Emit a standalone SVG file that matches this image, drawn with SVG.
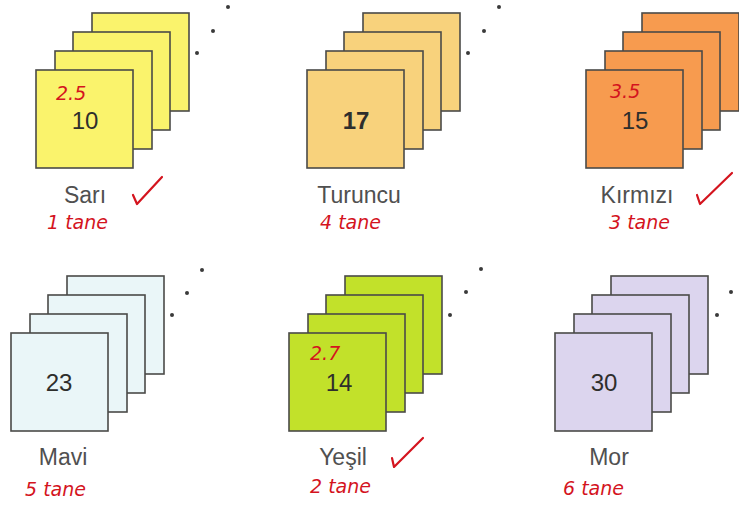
<svg xmlns="http://www.w3.org/2000/svg" width="739" height="508" viewBox="0 0 739 508">
<style>
.card{stroke:#4a4a48;stroke-width:1.6}
.num{font-family:"Liberation Sans",Arial,sans-serif;font-size:24px;fill:#2e2e2c;text-anchor:middle}
.lbl{font-family:"Liberation Sans",Arial,sans-serif;font-size:23px;fill:#505050;text-anchor:middle}
.hw{font-family:"DejaVu Sans",sans-serif;font-style:italic;font-size:19px;fill:#d4141e}
.chk{fill:none;stroke:#d4141e;stroke-width:2.2;stroke-linecap:round;stroke-linejoin:round}
.dot{fill:#3a3a3a}
.y{fill:#faf36c}.o{fill:#f8d27c}.r{fill:#f79b4f}.b{fill:#eaf6f8}.g{fill:#c2e12a}.p{fill:#dcd5ee}
</style>
<defs>
<g id="stack">
<rect x="56" y="-57" width="97" height="98"/>
<rect x="37" y="-38" width="97" height="98"/>
<rect x="19" y="-19" width="97" height="98"/>
<rect x="0" y="0" width="97" height="98"/>
</g>
</defs>
<rect width="739" height="508" fill="#ffffff"/>
<g id="sari">
<g class="card y"><use href="#stack" x="36" y="70"/></g>
<circle class="dot" cx="197" cy="53" r="2"/><circle class="dot" cx="213" cy="31" r="2"/><circle class="dot" cx="228" cy="7" r="2"/>
<text class="hw" x="56" y="100" font-size="17">2.5</text>
<text class="num" x="85" y="129">10</text>
<text class="lbl" x="85" y="203">Sarı</text>
<text class="hw" x="47" y="229">1 tane</text>
<path class="chk" d="M133,195 L137,204 L162,177"/>
</g>
<g id="turuncu">
<g class="card o"><use href="#stack" x="307" y="70"/></g>
<circle class="dot" cx="468" cy="53" r="2"/><circle class="dot" cx="484" cy="31" r="2"/><circle class="dot" cx="499" cy="7" r="2"/>
<text class="num" x="356" y="129" font-weight="bold">17</text>
<text class="lbl" x="359" y="203">Turuncu</text>
<text class="hw" x="320" y="229">4 tane</text>
</g>
<g id="kirmizi">
<g class="card r"><use href="#stack" x="586" y="70"/></g>
<text class="hw" x="610" y="98" font-size="17">3.5</text>
<text class="num" x="635" y="129">15</text>
<text class="lbl" x="637" y="203">Kırmızı</text>
<text class="hw" x="609" y="229">3 tane</text>
<path class="chk" d="M697,195 L700,204 L732,173"/>
</g>
<g id="mavi">
<g class="card b"><use href="#stack" x="11" y="333"/></g>
<circle class="dot" cx="172" cy="315" r="2"/><circle class="dot" cx="187" cy="293" r="2"/><circle class="dot" cx="202" cy="270" r="2"/>
<text class="num" x="59" y="391">23</text>
<text class="lbl" x="63" y="465">Mavi</text>
<text class="hw" x="25" y="496">5 tane</text>
</g>
<g id="yesil">
<g class="card g"><use href="#stack" x="289" y="333"/></g>
<circle class="dot" cx="450" cy="315" r="2"/><circle class="dot" cx="466" cy="292" r="2"/><circle class="dot" cx="481" cy="269" r="2"/>
<text class="hw" x="310" y="360" font-size="17">2.7</text>
<text class="num" x="339" y="391">14</text>
<text class="lbl" x="343" y="465">Yeşil</text>
<text class="hw" x="310" y="493">2 tane</text>
<path class="chk" d="M392,458 L394,467 L423,438"/>
</g>
<g id="mor">
<g class="card p"><use href="#stack" x="555" y="333"/></g>
<circle class="dot" cx="717" cy="315" r="2"/><circle class="dot" cx="731" cy="292" r="2"/>
<text class="num" x="604" y="391">30</text>
<text class="lbl" x="609" y="465">Mor</text>
<text class="hw" x="563" y="495">6 tane</text>
</g>
<g id="connectors"/>
</svg>
